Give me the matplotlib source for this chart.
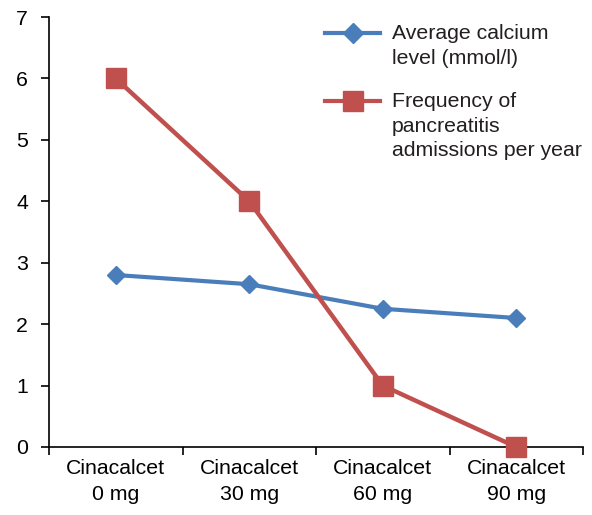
import numpy as np
import matplotlib.pyplot as plt
from matplotlib.lines import Line2D

plt.rcParams['font.family'] = ['Liberation Sans', 'DejaVu Sans']

categories = ["Cinacalcet\n0 mg", "Cinacalcet\n30 mg", "Cinacalcet\n60 mg", "Cinacalcet\n90 mg"]
calcium = [2.8, 2.65, 2.25, 2.1]
pancreatitis = [6, 4, 1, 0]
series_names = ["Average calcium\nlevel (mmol/l)",
                "Frequency of\npancreatitis\nadmissions per year"]

blue = "#4A7EBB"
red = "#C0504D"
fs = 15.3

fig = plt.figure(figsize=(5.92, 5.15), dpi=100)
ax = fig.add_axes([49 / 592, 1 - 447 / 515, (583 - 49) / 592, (447 - 17) / 515])

x = np.arange(len(categories))
ax.plot(x, calcium, color=blue, lw=3, marker="D", ms=9, clip_on=False, zorder=3)
ax.plot(x, pancreatitis, color=red, lw=3.2, marker="s", ms=14, clip_on=False, zorder=3)

ax.set_xlim(-0.5, 3.5)
ax.set_ylim(0, 7)
ax.set_yticks(range(8))
ax.set_xticks(np.arange(-0.5, 4, 1))
ax.set_xticklabels([])
ax.set_xticks(x, minor=True)
ax.set_xticklabels(categories, minor=True)
ax.tick_params(axis="x", which="minor", length=0, pad=9, labelsize=fs)
ax.tick_params(axis="x", which="major", length=6, width=1.2)
ax.tick_params(axis="y", length=6, width=1.2, labelsize=fs, pad=9)
for s in ["top", "right"]:
    ax.spines[s].set_visible(False)
for s in ["left", "bottom"]:
    ax.spines[s].set_linewidth(1.2)
for lbl in ax.get_xticklabels(minor=True):
    lbl.set_linespacing(1.45)


# legend, handles level with the first text line as in the original
def px(xp, yp):
    return (xp - 49) / 534, (447 - yp) / 430


for name, col, mk, ms, ypix in [(series_names[0], blue, "D", 10, 33),
                                 (series_names[1], red, "s", 14, 101)]:
    x0, y0 = px(325, ypix)
    x1, _ = px(380, ypix)
    ax.add_line(Line2D([x0, x1], [y0, y0], transform=ax.transAxes, color=col,
                       lw=3, clip_on=False))
    ax.add_line(Line2D([(x0 + x1) / 2], [y0], transform=ax.transAxes, color=col,
                       marker=mk, ms=ms, clip_on=False))
    tx, ty = px(392, ypix - 9)
    ax.text(tx, ty, name, transform=ax.transAxes, fontsize=fs, va="top",
            ha="left", color="#231f20", linespacing=1.38)

fig.savefig("out.png", dpi=100)
